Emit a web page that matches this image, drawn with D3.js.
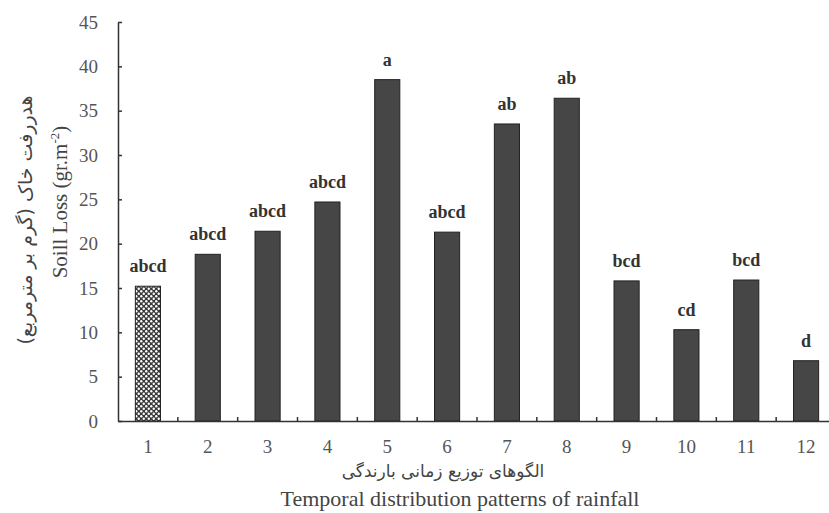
<!DOCTYPE html>
<html>
<head>
<meta charset="utf-8">
<script src="https://cdn.jsdelivr.net/npm/d3@7"></script>
<style>
  body { margin: 0; background: #fff; }
  svg { display: block; }
</style>
</head>
<body>
<div id="main"></div>
<script>
var patterns = ["1", "2", "3", "4", "5", "6", "7", "8", "9", "10", "11", "12"];
var soilLoss = [15.2, 18.8, 21.4, 24.7, 38.5, 21.3, 33.5, 36.4, 15.8, 10.3, 15.9, 6.8];
var groups = ["abcd", "abcd", "abcd", "abcd", "a", "abcd", "ab", "ab", "bcd", "cd", "bcd", "d"];
var yTicks = [0, 5, 10, 15, 20, 25, 30, 35, 40, 45];

var W = 829, H = 513;
// plot area (note: "top" is reserved on window, so use other names)
var plotLeft = 118, plotRight = 836, plotTop = 22, plotBottom = 421;

var svg = d3.select("#main")
  .append("svg")
    .attr("width", W)
    .attr("height", H);

// checkered fill for the first (control) bar
var pat = svg.append("defs").append("pattern")
  .attr("id", "checker")
  .attr("patternUnits", "userSpaceOnUse")
  .attr("width", 5)
  .attr("height", 5);
pat.append("rect").attr("width", 5).attr("height", 5).attr("fill", "#3a3a3a");
pat.append("circle").attr("cx", 1.25).attr("cy", 1.25).attr("r", 1.2).attr("fill", "#fff");
pat.append("circle").attr("cx", 3.75).attr("cy", 3.75).attr("r", 1.2).attr("fill", "#fff");

var x = d3.scaleBand()
  .domain(patterns)
  .range([plotLeft, plotRight])
  .paddingInner(0.58)
  .paddingOuter(0.29);

var y = d3.scaleLinear()
  .domain([0, 45])
  .range([plotBottom, plotTop]);

// bars
svg.selectAll(".bar")
  .data(patterns)
  .enter()
  .append("rect")
    .attr("class", "bar")
    .attr("x", function(d) { return x(d); })
    .attr("y", function(d, i) { return y(soilLoss[i]); })
    .attr("width", x.bandwidth())
    .attr("height", function(d, i) { return plotBottom - y(soilLoss[i]); })
    .attr("fill", function(d, i) { return i === 0 ? "url(#checker)" : "#464646"; })
    .attr("stroke", "#222")
    .attr("stroke-width", 1);

// significance letters
svg.selectAll(".grp")
  .data(patterns)
  .enter()
  .append("text")
    .attr("x", function(d) { return x(d) + x.bandwidth() / 2; })
    .attr("y", function(d, i) { return y(soilLoss[i]) - 14; })
    .attr("text-anchor", "middle")
    .style("font-family", "Liberation Serif, serif")
    .style("font-weight", "bold")
    .style("font-size", "18px")
    .style("fill", "#333")
    .text(function(d, i) { return groups[i]; });

// Y axis
var yAxis = svg.append("g")
  .attr("transform", "translate(" + plotLeft + ",0)")
  .call(d3.axisLeft(y).tickValues(yTicks).tickSizeInner(-4).tickSizeOuter(0).tickPadding(20));
yAxis.select(".domain").attr("stroke", "#333").attr("stroke-width", 1.5);
yAxis.selectAll(".tick line").attr("stroke", "#333").attr("stroke-width", 1.5);
yAxis.selectAll("text")
  .style("font-family", "Liberation Serif, serif")
  .style("font-size", "19px")
  .style("fill", "#555");

// X axis
var xAxis = svg.append("g")
  .attr("transform", "translate(0," + plotBottom + ")")
  .call(d3.axisBottom(x).tickSize(0).tickPadding(19));
xAxis.select(".domain").attr("stroke", "#333").attr("stroke-width", 1.5);
xAxis.selectAll("text")
  .style("font-family", "Liberation Serif, serif")
  .style("font-size", "19px")
  .style("fill", "#555");

// small ticks between categories
svg.selectAll(".sep")
  .data(patterns.slice(1))
  .enter()
  .append("line")
    .attr("x1", function(d) { return x(d) - x.step() * x.paddingInner() / 2; })
    .attr("x2", function(d) { return x(d) - x.step() * x.paddingInner() / 2; })
    .attr("y1", plotBottom)
    .attr("y2", plotBottom - 4)
    .attr("stroke", "#333")
    .attr("stroke-width", 1.5);

// axis titles
svg.append("text")
  .attr("x", 443)
  .attr("y", 477)
  .attr("text-anchor", "middle")
  .style("font-family", "DejaVu Sans, sans-serif")
  .style("font-size", "17px")
  .style("fill", "#444")
  .text("الگوهای توزیع زمانی بارندگی");

svg.append("text")
  .attr("x", 460)
  .attr("y", 506)
  .attr("text-anchor", "middle")
  .style("font-family", "Liberation Serif, serif")
  .style("font-size", "22px")
  .style("fill", "#444")
  .text("Temporal distribution patterns of rainfall");

var yTitle = svg.append("text")
  .attr("transform", "translate(67,202) rotate(-90)")
  .attr("text-anchor", "middle")
  .style("font-family", "Liberation Serif, serif")
  .style("font-size", "21px")
  .style("fill", "#444");
yTitle.append("tspan").text("Soill Loss (gr.m");
yTitle.append("tspan").attr("dy", -8).style("font-size", "13px").text("-2");
yTitle.append("tspan").attr("dy", 8).text(")");

svg.append("text")
  .attr("transform", "translate(32,220) rotate(-90)")
  .attr("text-anchor", "middle")
  .style("font-family", "DejaVu Sans, sans-serif")
  .style("font-size", "19px")
  .style("fill", "#444")
  .text("هدررفت خاک (گرم بر مترمربع)");
</script>
</body>
</html>
